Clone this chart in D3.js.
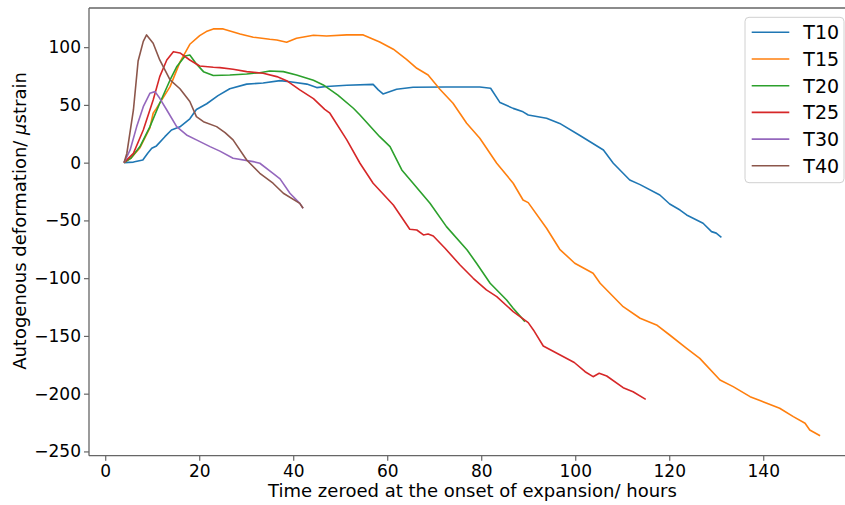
<!DOCTYPE html>
<html>
<head>
<meta charset="utf-8">
<script src="https://cdn.jsdelivr.net/npm/d3@7"></script>
<style>
  body { margin: 0; background: #fff; }
  text { font-family: "DejaVu Sans", sans-serif; fill: #000; }
</style>
</head>
<body>
<div id="chart"></div>
<script>
// series, [hours, microstrain]
const T10 = [[4,0],[6,0.5],[8,2.3],[9,8],[9.9,12.5],[10.9,14.5],[12.7,22.5],[14.1,28.3],[15.9,31],[18,38],[19.4,46],[21.6,51],[24,58],[26.5,64],[30.1,68],[33.6,69],[37.2,71],[39.3,70],[42.9,68],[45,65],[47.1,66],[51.4,67],[57,67.8],[58.1,63],[59.1,59.5],[62,63.5],[65.5,65.3],[72.6,65.5],[79.7,65.5],[82,64.4],[84,52],[86.8,47],[88.9,44],[90,41.3],[93.9,38.4],[96.7,34],[101,23.5],[106,11],[108.1,-0.5],[111.6,-15],[113.8,-19],[118,-28],[120.1,-35.8],[122.3,-41],[123.7,-45.3],[127.2,-52.5],[129,-59.7],[130,-61],[131.1,-64.6]];
const T15 = [[4,0],[5.5,4],[7.4,13],[9.5,30],[10.2,42.8],[10.9,47],[13.8,65.8],[15.9,87],[18,102.5],[20.1,110],[21.5,113.5],[23,115.8],[25.1,115.8],[28.7,111.4],[31.5,108.6],[35,106.8],[36.5,106.2],[38.6,104.2],[40.7,107.7],[44.3,110.3],[47.1,109.7],[51.4,110.6],[54.9,110.6],[58.4,104.5],[61.3,98.2],[64.1,89.5],[66.3,81.7],[68.7,75.9],[71.2,63.5],[74,51.4],[76.9,34.1],[79.7,21.1],[83.3,-0.5],[86.8,-17.8],[88.9,-32.3],[90,-34.6],[93.9,-56.8],[96.7,-75],[99.9,-87.1],[103.8,-95.8],[105.3,-104.4],[110.2,-124.7],[113.8,-134.7],[117.3,-140.5],[120.1,-149.2],[123.7,-160.7],[126.5,-169.4],[130.8,-188.1],[133.6,-193.9],[137.2,-202.6],[139.3,-206],[143.5,-212.6],[146.4,-219.9],[148.9,-225.6],[149.9,-231.4],[152.1,-236.4]];
const T20 = [[4,0],[5.5,4],[7.4,13.9],[9.5,31],[11.6,51.4],[13.8,71.6],[15.2,83],[17,92.4],[18,93.2],[19.4,85.5],[20.9,78.8],[23,75.5],[26.5,75.9],[30.1,76.8],[32.9,77.9],[35,79.4],[37.9,78.8],[40.7,75.9],[44.3,71.3],[46.4,67.3],[49.5,58.5],[52.8,47.1],[54.2,41.3],[58.4,22.5],[60.6,13.9],[63.1,-6.3],[65.5,-17.8],[69.1,-35.2],[72.6,-55.4],[77,-75.6],[79,-87.1],[81.9,-104.4],[85.4,-118.9],[86.8,-126],[89.3,-137.6]];
const T25 = [[4,0],[6,8],[8.1,28.3],[10.2,54.3],[11.6,74.5],[13.1,88.9],[14.5,96.1],[15.9,95],[18,88.9],[20.1,83.7],[23,82.6],[24.4,82.3],[27.2,80.9],[30.1,78.8],[33.6,77.4],[36.5,74.5],[38.6,71],[41.4,63],[44.3,55.5],[46.7,46.2],[47.8,42.8],[51.4,19.7],[54.2,-0.5],[57,-17.8],[61.3,-36.6],[64.8,-57.7],[66.3,-58.3],[67.7,-62.6],[68.7,-61.7],[69.8,-63.5],[72.3,-74.1],[75.5,-88.6],[78.3,-100.1],[81.1,-110.2],[83.3,-116],[86.8,-129],[90,-138.5],[91.1,-144.8],[93.2,-158.7],[96.3,-165.5],[99.8,-173],[102.1,-181],[103.8,-185.3],[105.1,-182.3],[106.7,-184.7],[110.2,-194.8],[112.3,-198.3],[115,-204.9]];
const T30 = [[4,0],[5.3,11],[6.7,31.2],[8.1,48.5],[9.5,60],[10.6,61.5],[11.6,55.7],[13.1,45.6],[15.2,31.2],[17.3,24],[19.4,19.7],[22.3,13.9],[24.4,10],[27.2,3.8],[31.5,0.9],[32.9,-0.5],[35.7,-9.2],[37.2,-14],[39.3,-26.5],[41.4,-35.2],[42.1,-39.5]];
const T40 = [[4,0],[4.6,8],[6,45.6],[7,88],[8.1,105],[8.8,110.6],[10.2,103.4],[11.6,88.9],[13.8,71.6],[15.9,64],[18,53],[19.4,39.8],[20.9,35.5],[23.7,31.2],[25.5,26],[27.2,19.7],[30.1,2.3],[32.9,-9.2],[35.7,-17.8],[37.9,-26.5],[41.4,-35.2],[42.1,-39.5]];

const seriesNames = ["T10", "T15", "T20", "T25", "T30", "T40"];
const seriesData = [T10, T15, T20, T25, T30, T40];
const colors = ["#1f77b4", "#ff7f0e", "#2ca02c", "#d62728", "#9467bd", "#8c564b"];
const xTicks = [0, 20, 40, 60, 80, 100, 120, 140];
const yTicks = [-250, -200, -150, -100, -50, 0, 50, 100];

const width = 845, height = 505;
// plot box, the right side runs past the picture edge like in the source
const plot = {left: 89, right: 857, top: 8, bottom: 455.7};

const svg = d3.select("#chart").append("svg")
    .attr("width", width)
    .attr("height", height);

const x = d3.scaleLinear().domain([-3.45, 159.95]).range([plot.left, plot.right]);
const y = d3.scaleLinear().domain([-253.7, 133.9]).range([plot.bottom, plot.top]);

// lines
const line = d3.line().x(d => x(d[0])).y(d => y(d[1]));
svg.append("g")
    .selectAll("path")
    .data(seriesData)
    .enter()
    .append("path")
    .attr("d", line)
    .attr("fill", "none")
    .attr("stroke", (d, i) => colors[i])
    .attr("stroke-width", 1.6)
    .attr("stroke-linejoin", "round");

// axes
const xAxis = svg.append("g")
    .attr("transform", "translate(0," + plot.bottom + ")")
    .call(d3.axisBottom(x).tickValues(xTicks).tickSize(5).tickPadding(4));
const yAxis = svg.append("g")
    .attr("transform", "translate(" + plot.left + ",0)")
    .call(d3.axisLeft(y).tickValues(yTicks).tickSize(5).tickPadding(3));

[xAxis, yAxis].forEach(a => {
  a.select(".domain").remove();
  a.selectAll("line").attr("stroke", "#666").attr("stroke-width", 1.2);
  a.selectAll("text").style("font-size", "17px").attr("fill", "#111");
});

// spines: left, top, bottom
svg.append("path")
    .attr("d", `M${plot.left},${plot.top}V${plot.bottom}M${plot.left},${plot.top}H${width}M${plot.left},${plot.bottom}H${width}`)
    .attr("fill", "none")
    .attr("stroke", "#666")
    .attr("stroke-width", 1.3);

// axis titles
svg.append("text")
    .attr("x", 472.5)
    .attr("y", 497)
    .attr("text-anchor", "middle")
    .style("font-size", "18px")
    .text("Time zeroed at the onset of expansion/ hours");

const yLabel = svg.append("text")
    .attr("transform", "translate(26,221) rotate(-90)")
    .attr("text-anchor", "middle")
    .style("font-size", "18px");
yLabel.append("tspan").text("Autogenous deformation/ ");
yLabel.append("tspan").style("font-style", "italic").text("μ");
yLabel.append("tspan").text("strain");

// legend
const legend = svg.append("g");
legend.append("rect")
    .attr("x", 745).attr("y", 17.3)
    .attr("width", 99).attr("height", 165.4)
    .attr("rx", 4)
    .attr("fill", "#fff").attr("fill-opacity", 0.8)
    .attr("stroke", "#d0d0d0");

const items = legend.selectAll("g.item")
    .data(seriesNames)
    .enter()
    .append("g")
    .attr("transform", (d, i) => "translate(0," + (32.3 + i * 26.7) + ")");
items.append("line")
    .attr("x1", 751.7).attr("x2", 789.3)
    .attr("stroke", (d, i) => colors[i])
    .attr("stroke-width", 1.6);
items.append("text")
    .attr("x", 803.3)
    .attr("y", 7)
    .style("font-size", "19px")
    .text(d => d);
</script>
</body>
</html>
